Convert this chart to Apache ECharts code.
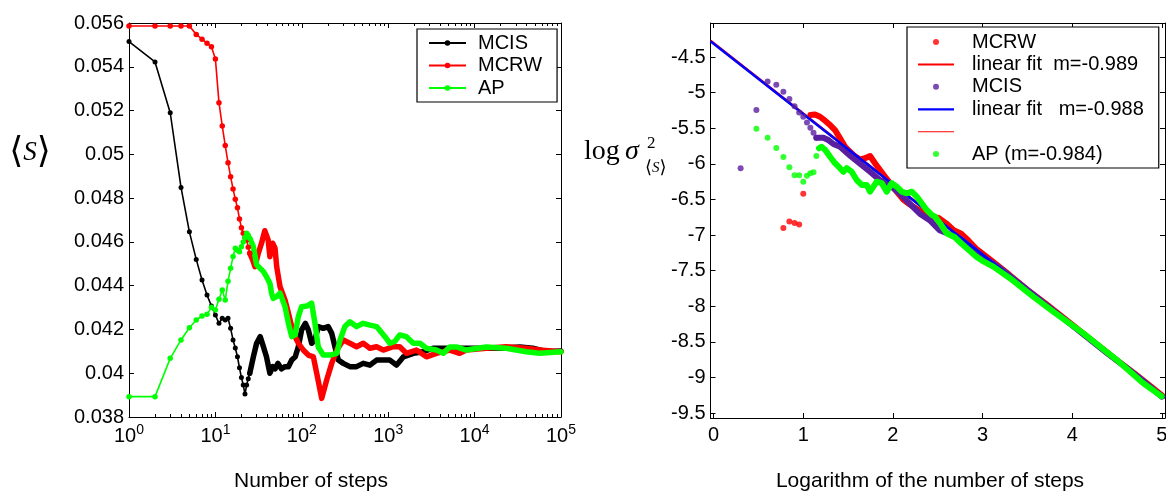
<!DOCTYPE html>
<html><head><meta charset="utf-8">
<script src="https://cdn.jsdelivr.net/npm/echarts@6/dist/echarts.min.js"></script>
<style>html,body{margin:0;padding:0;background:#fff}#c{width:1166px;height:492px}</style>
</head><body><div id="c"></div>
<script>
// ---------- tick labels ----------
const xMajor = [1, 10, 100, 1000, 10000, 100000];
const xMinor = [2,3,4,5,6,7,8,9,20,30,40,50,60,70,80,90,200,300,400,500,600,700,800,900,
  2000,3000,4000,5000,6000,7000,8000,9000,20000,30000,40000,50000,60000,70000,80000,90000];
const leftYTicks = [0.038, 0.04, 0.042, 0.044, 0.046, 0.048, 0.05, 0.052, 0.054, 0.056];
const rightXTicks = [0, 1, 2, 3, 4, 5];
const rightYTicks = [-9.5, -9, -8.5, -8, -7.5, -7, -6.5, -6, -5.5, -5, -4.5];

// ---------- left panel: <S> vs number of steps ----------
const mcisEarly = [[1,0.05515],[2,0.05422],[3,0.05190],[4,0.04849],[5,0.04646],[6,0.04520],[7,0.04426],
  [8,0.04357],[9,0.04307],[10,0.04266],[11,0.04228],[12,0.04251],[13,0.04243],[14,0.04251],[15,0.04205],
  [16,0.04152],[17,0.04115],[18,0.04075],[19,0.04025],[20,0.03980],[21,0.03946],[22,0.03905],[23,0.03946],
  [24,0.03975],[25,0.04000]];
const mcisLate = [[25,0.04000],[27.5,0.04075],[30,0.04137],[33,0.04167],[36,0.04120],[39,0.04075],[42.7,0.04000],
  [46,0.04030],[49,0.04020],[53,0.04045],[58,0.04020],[64,0.04030],[70,0.04030],[76.5,0.04060],[84,0.04075],
  [91,0.04120],[99.5,0.04198],[110,0.04228],[119,0.04198],[130,0.04137],[142,0.04152],[155,0.04213],[177,0.04205],
  [202,0.04213],[222,0.04182],[242,0.04120],[265,0.04060],[302,0.04045],[360,0.04030],[430,0.04030],[514,0.04045],
  [614,0.04037],[734,0.04060],[877,0.04060],[1045,0.04060],[1250,0.04037],[1500,0.04075],[1950,0.04091],
  [2540,0.04098],[3300,0.04114],[4750,0.04114],[6800,0.04114],[11500,0.04114],[19500,0.04114],[33500,0.04120],
  [47000,0.04114],[68000,0.04098],[100000,0.04102]];

const mcrwEarly = [[1,0.05586],[2,0.05586],[3,0.05586],[4,0.05586],[5,0.05586],[6,0.05548],[7,0.05526],
  [8,0.05507],[9,0.05492],[10,0.05436],[11,0.05236],[12,0.05130],[13,0.05040],[14,0.04962],[15,0.04898],
  [16,0.04842],[17,0.04795],[18,0.04756],[19,0.04705],[20,0.04665],[21,0.04640],[22,0.04620],[23,0.04609],
  [24,0.04575],[25,0.04548]];
const mcrwLate = [[25,0.04548],[27.5,0.04509],[28.7,0.04487],[31.4,0.04549],[34.2,0.04594],[37.3,0.04651],
  [40.8,0.04609],[42.7,0.04532],[46,0.04594],[49,0.04571],[51.2,0.04487],[56,0.04395],[64,0.04334],[70,0.04274],
  [76.5,0.04213],[83.7,0.04167],[91.4,0.04137],[104,0.04106],[119,0.04083],[136,0.04075],[149,0.03999],
  [170,0.03885],[194,0.03969],[222,0.04045],[254,0.04106],[302,0.04152],[360,0.04137],[430,0.04121],[514,0.04137],
  [614,0.04114],[734,0.04121],[877,0.04106],[1142,0.04121],[1360,0.04121],[1625,0.04091],[2120,0.04106],
  [2770,0.04075],[3610,0.04091],[5150,0.04106],[6710,0.04091],[8000,0.04106],[13650,0.04114],[23200,0.04121],
  [39500,0.04114],[56600,0.04106],[100000,0.04098]];

const apEarly = [[1,0.03893],[2,0.03893],[3,0.04068],[4,0.04152],[5,0.04208],[6,0.04243],[7,0.04261],
  [8,0.04269],[9,0.04301],[10,0.04289],[11,0.04338],[12,0.04380],[13,0.04334],[14,0.04420],[15,0.04479],
  [16,0.04533],[17,0.04571],[18,0.04562],[19,0.04555],[20,0.04578],[21,0.04600],[22,0.04620],[23,0.04639],
  [24,0.04630],[25,0.04616]];
const apLate = [[25,0.04616],[27.5,0.04578],[30,0.04495],[33,0.04479],[36,0.04464],[39,0.04441],[42.7,0.04411],
  [44.7,0.04365],[46.7,0.04342],[51,0.04350],[56,0.04366],[60,0.04334],[64,0.04304],[70,0.04228],[76.5,0.04167],
  [83.7,0.04175],[91,0.04258],[99.5,0.04304],[114,0.04307],[130,0.04320],[142,0.04228],[155,0.04120],
  [177,0.04083],[212,0.04083],[254,0.04091],[277,0.04152],[315,0.04213],[360,0.04235],[430,0.04213],
  [514,0.04228],[614,0.04220],[734,0.04213],[917,0.04167],[1045,0.04137],[1195,0.04145],[1360,0.04175],
  [1625,0.04167],[1950,0.04137],[2330,0.04137],[2770,0.04114],[3610,0.04106],[4350,0.04091],[5150,0.04120],
  [6150,0.04120],[8000,0.04106],[13650,0.04120],[23200,0.04114],[39500,0.04098],[56600,0.04091],[100000,0.04098]];

// ---------- right panel: log variance vs log steps ----------
const rwDots = [[0.778,-6.90],[0.845,-6.81],[0.903,-6.83],[0.954,-6.85],[1.0,-6.42]];
const rwBand = [[1.079,-5.314],[1.13,-5.305],[1.187,-5.337],[1.243,-5.393],[1.299,-5.454],[1.354,-5.524],
  [1.41,-5.641],[1.466,-5.759],[1.522,-5.83],[1.578,-5.899],[1.633,-5.936],[1.689,-5.92],[1.745,-5.889],
  [1.80,-5.99],[1.856,-6.086],[1.912,-6.18],[1.968,-6.27],[2.042,-6.39],[2.116,-6.50],[2.19,-6.57],
  [2.265,-6.63],[2.339,-6.69],[2.413,-6.74],[2.51,-6.76],[2.594,-6.835],[2.678,-6.93],[2.761,-6.98],
  [2.844,-7.08],[2.927,-7.19],[3.1,-7.36],[3.3,-7.56],[3.5,-7.77],[3.7,-7.96],[3.9,-8.16],[4.1,-8.36],
  [4.3,-8.56],[4.5,-8.76],[4.7,-8.95],[4.9,-9.15],[5.0,-9.25]];
const isDots = [[0.301,-6.06],[0.477,-5.244],[0.602,-4.841],[0.699,-4.889],[0.778,-4.987],[0.845,-5.089],
  [0.903,-5.188],[0.954,-5.276],[1.0,-5.337],[1.041,-5.417],[1.079,-5.492],[1.114,-5.562],[1.146,-5.632]];
const isBand = [[1.146,-5.632],[1.224,-5.632],[1.28,-5.665],[1.336,-5.72],[1.41,-5.76],[1.52,-5.88],
  [1.63,-5.995],[1.745,-6.11],[1.856,-6.23],[1.967,-6.30],[2.08,-6.42],[2.19,-6.56],[2.30,-6.70],[2.41,-6.79],
  [2.52,-6.93],[2.62,-6.98],[2.75,-7.05],[2.844,-7.14],[3.01,-7.31],[3.2,-7.47],[3.4,-7.67],[3.6,-7.87],
  [3.8,-8.07],[4.0,-8.27],[4.2,-8.47],[4.4,-8.67],[4.6,-8.86],[4.8,-9.06],[5.0,-9.27]];
const apDots = [[0.477,-5.506],[0.602,-5.632],[0.699,-5.777],[0.778,-5.903],[0.845,-6.048],[0.903,-6.16],
  [0.954,-6.16],[1.0,-6.25],[1.041,-6.165],[1.079,-6.132],[1.114,-6.118],[1.146,-5.889]];
const apBand = [[1.176,-5.78],[1.204,-5.759],[1.243,-5.80],[1.299,-5.899],[1.354,-5.99],[1.41,-6.06],
  [1.447,-6.11],[1.485,-6.06],[1.54,-6.11],[1.596,-6.226],[1.652,-6.296],[1.708,-6.296],[1.745,-6.39],
  [1.782,-6.32],[1.819,-6.25],[1.875,-6.27],[1.931,-6.39],[1.987,-6.27],[2.042,-6.32],[2.098,-6.39],
  [2.154,-6.413],[2.21,-6.39],[2.265,-6.46],[2.321,-6.553],[2.377,-6.647],[2.433,-6.717],[2.469,-6.74],
  [2.525,-6.834],[2.6,-6.974],[2.69,-7.03],[2.761,-7.114],[2.844,-7.208],[2.927,-7.30],[3.01,-7.37],
  [3.12,-7.443],[3.305,-7.606],[3.565,-7.864],[3.788,-8.074],[4.12,-8.378],[4.495,-8.752],[4.79,-9.079],
  [4.997,-9.267]];
const fitX = [-0.035, 5.035];
const fitRW = [-4.270, -9.285];
const fitIS = [-4.275, -9.285];

const rightLabels = {
  R_MCRW: 'MCRW', R_fitRW: 'linear fit  m=-0.989', R_MCIS: 'MCIS',
  R_fitIS: 'linear fit   m=-0.988', R_blank: ' ', R_AP: 'AP (m=-0.984)'
};

// ---------- styling ----------
const FONT = '"Liberation Sans", Arial, sans-serif';
const SERIF = '"Liberation Serif", "DejaVu Serif", serif';
const BLACK = '#000000', RED = '#ff0000', GREEN = '#00ff00', BLUE = '#0000ff', PURPLE = '#5a1ea0';
const aLine = {show: true, onZero: false, lineStyle: {color: BLACK, width: 1}};
const noLine = {show: false, onZero: false};
function ticks(vals, len) { return {show: true, inside: true, length: len, customValues: vals, lineStyle: {color: BLACK, width: 1}}; }
const noLabel = {show: false};
const noSplit = {show: false};
const lab = {fontFamily: FONT, fontSize: 20, color: BLACK};

const chart = echarts.init(document.getElementById('c'), null, {renderer: 'canvas'});

function logX(pos, major, labels) {
  return {
    gridIndex: 0, type: 'log', logBase: 10, min: 1, max: 100000, position: pos,
    axisLine: major ? aLine : noLine,
    axisTick: major ? ticks(xMajor, 5) : ticks(xMinor, 3),
    axisLabel: labels ? Object.assign({}, lab, {
      margin: 6, customValues: xMajor,
      formatter: v => '{b|10}{s|' + Math.round(Math.log10(v)) + '}',
      rich: {
        b: {fontFamily: FONT, fontSize: 20, color: BLACK, lineHeight: 20, padding: [6, 0, 0, 0]},
        s: {fontFamily: FONT, fontSize: 14, color: BLACK, lineHeight: 14, verticalAlign: 'top'}
      }
    }) : noLabel,
    splitLine: noSplit, minorTick: {show: false}, minorSplitLine: {show: false}
  };
}

const leftSeries = [
  ['MCIS', mcisEarly, mcisLate, BLACK, 5],
  ['MCRW', mcrwEarly, mcrwLate, RED, 5.5],
  ['AP', apEarly, apLate, GREEN, 5.5]
];
const series = [];
leftSeries.forEach(([name, early, late, color, ss]) => {
  series.push({
    name: name, type: 'line', xAxisIndex: 0, yAxisIndex: 0, data: early,
    symbol: 'circle', symbolSize: ss, showSymbol: true, color: color,
    itemStyle: {color: color}, lineStyle: {color: color, width: 1.6},
    emphasis: {disabled: true}, z: 3
  });
  series.push({
    name: name + '_d', type: 'line', xAxisIndex: 0, yAxisIndex: 0, data: late,
    symbol: 'none', color: color, lineStyle: {color: color, width: 5.5, cap: 'round', join: 'round'},
    emphasis: {disabled: true}, z: 3
  });
});

function dots(name, data, color) {
  return {name: name, type: 'scatter', xAxisIndex: 4, yAxisIndex: 2, data: data, symbol: 'circle',
    symbolSize: 6, color: color, itemStyle: {color: color}, emphasis: {disabled: true}, z: 3};
}
function band(name, data, color) {
  return {name: name, type: 'line', xAxisIndex: 4, yAxisIndex: 2, data: data, symbol: 'none', color: color,
    lineStyle: {color: color, width: 6, cap: 'round', join: 'round'}, emphasis: {disabled: true}, z: 3};
}
function fit(name, ys, color, w) {
  return {name: name, type: 'line', xAxisIndex: 4, yAxisIndex: 2,
    data: ys.map((y, i) => [fitX[i], y]), symbol: 'none', color: color, itemStyle: {color: color},
    lineStyle: {color: color, width: w}, emphasis: {disabled: true}, z: 3};
}
series.push(dots('R_MCRW', rwDots, RED));
series.push(band('R_MCRW_d', rwBand, RED));
series.push(fit('R_fitRW', fitRW, RED, 2.5));
series.push(dots('R_MCIS', isDots, PURPLE));
series.push(band('R_MCIS_d', isBand, PURPLE));
series.push(fit('R_fitIS', fitIS, BLUE, 2.5));
series.push({name: 'R_blank', type: 'line', xAxisIndex: 4, yAxisIndex: 2, data: [], symbol: 'none',
  color: RED, itemStyle: {color: RED}, lineStyle: {color: RED, width: 1}});
series.push(dots('R_AP', apDots, GREEN));
series.push(band('R_AP_d', apBand, GREEN));

const FIT_ICON = 'path://M0,0M36,0M36,6M0,6M0,2L36,2L36,4.2L0,4.2Z';
const THIN_ICON = 'path://M0,0M36,0M36,6M0,6M0,2.6L36,2.6L36,3.6L0,3.6Z';

const option = {
  animation: false,
  backgroundColor: '#ffffff',
  grid: [
    {left: 129, top: 23, width: 432, height: 394, containLabel: false, outerBoundsMode: 'none', show: false},
    {left: 710.5, top: 23, width: 454.5, height: 395, containLabel: false, outerBoundsMode: 'none', show: false}
  ],
  xAxis: [
    logX('bottom', true, true),
    logX('bottom', false, false),
    logX('top', true, false),
    logX('top', false, false),
    {gridIndex: 1, type: 'value', min: -0.035, max: 5.035, position: 'bottom', axisLine: aLine,
      axisTick: ticks(rightXTicks, 5),
      axisLabel: Object.assign({}, lab, {margin: 7, customValues: rightXTicks, formatter: v => String(Math.round(v))}),
      splitLine: noSplit},
    {gridIndex: 1, type: 'value', min: -0.035, max: 5.035, position: 'top', axisLine: aLine,
      axisTick: ticks(rightXTicks, 5), axisLabel: noLabel, splitLine: noSplit}
  ],
  yAxis: [
    {gridIndex: 0, type: 'value', min: 0.038, max: 0.056, position: 'left', axisLine: aLine,
      axisTick: ticks(leftYTicks, 5),
      axisLabel: Object.assign({}, lab, {margin: 5, customValues: leftYTicks, formatter: v => String(+(+v).toFixed(3))}),
      splitLine: noSplit},
    {gridIndex: 0, type: 'value', min: 0.038, max: 0.056, position: 'right', axisLine: aLine,
      axisTick: ticks(leftYTicks, 5), axisLabel: noLabel, splitLine: noSplit},
    {gridIndex: 1, type: 'value', min: -9.57, max: -4.02, position: 'left', axisLine: aLine,
      axisTick: ticks(rightYTicks, 5),
      axisLabel: Object.assign({}, lab, {margin: 5, customValues: rightYTicks, formatter: v => String(+(+v).toFixed(2))}),
      splitLine: noSplit},
    {gridIndex: 1, type: 'value', min: -9.57, max: -4.02, position: 'right', axisLine: aLine,
      axisTick: ticks(rightYTicks, 5), axisLabel: noLabel, splitLine: noSplit}
  ],
  legend: [
    {left: 417, top: 29, orient: 'vertical', data: ['MCIS', 'MCRW', 'AP'], itemWidth: 37, itemHeight: 7,
      itemGap: 2.5, padding: [4, 15, 4, 11], borderColor: BLACK, borderWidth: 1.2, backgroundColor: '#fff',
      selectedMode: false, z: 10,
      textStyle: {fontFamily: FONT, fontSize: 20, color: BLACK, lineHeight: 20, padding: [0, 0, 0, 7]}},
    {left: 907, top: 27, orient: 'vertical',
      data: [{name: 'R_MCRW'}, {name: 'R_fitRW', icon: FIT_ICON}, {name: 'R_MCIS'},
             {name: 'R_fitIS', icon: FIT_ICON}, {name: 'R_blank', icon: THIN_ICON}, {name: 'R_AP'}],
      formatter: n => rightLabels[n], itemWidth: 36, itemHeight: 6, itemGap: 2.4,
      padding: [5, 15, 4, 11], borderColor: BLACK, borderWidth: 1.2, backgroundColor: '#fff',
      selectedMode: false, z: 10,
      textStyle: {fontFamily: FONT, fontSize: 20, color: BLACK, lineHeight: 20, padding: [0, 0, 0, 13]}}
  ],
  graphic: {elements: [
    {type: 'text', x: 311, y: 481, style: {text: 'Number of steps', fontFamily: FONT, fontSize: 21,
      fill: BLACK, align: 'center', verticalAlign: 'middle'}},
    {type: 'text', x: 930, y: 481, style: {text: 'Logarithm of the number of steps', fontFamily: FONT,
      fontSize: 21, fill: BLACK, align: 'center', verticalAlign: 'middle'}},
    {type: 'text', x: 30, y: 153, style: {text: '{a|⟨}{b|S}{a|⟩}', align: 'center', verticalAlign: 'middle',
      fill: BLACK, rich: {
        a: {fontFamily: SERIF, fontSize: 36, fill: BLACK},
        b: {fontFamily: SERIF, fontSize: 27, fontStyle: 'italic', fill: BLACK}}}},
    {type: 'text', x: 584, y: 152, style: {text: 'log', fontFamily: SERIF, fontSize: 28, fill: BLACK,
      align: 'left', verticalAlign: 'middle'}},
    {type: 'text', x: 625, y: 152, style: {text: 'σ', fontFamily: SERIF, fontSize: 28, fontStyle: 'italic',
      fill: BLACK, align: 'left', verticalAlign: 'middle'}},
    {type: 'text', x: 647, y: 144, style: {text: '2', fontFamily: SERIF, fontSize: 17, fill: BLACK,
      align: 'left', verticalAlign: 'middle'}},
    {type: 'text', x: 645, y: 168, style: {text: '{a|⟨}{b|S}{a|⟩}', align: 'left', verticalAlign: 'middle',
      fill: BLACK, rich: {
        a: {fontFamily: SERIF, fontSize: 18, fill: BLACK},
        b: {fontFamily: SERIF, fontSize: 15, fontStyle: 'italic', fill: BLACK}}}}
  ]},
  series: series
};
chart.setOption(option);
</script>
</body></html>
